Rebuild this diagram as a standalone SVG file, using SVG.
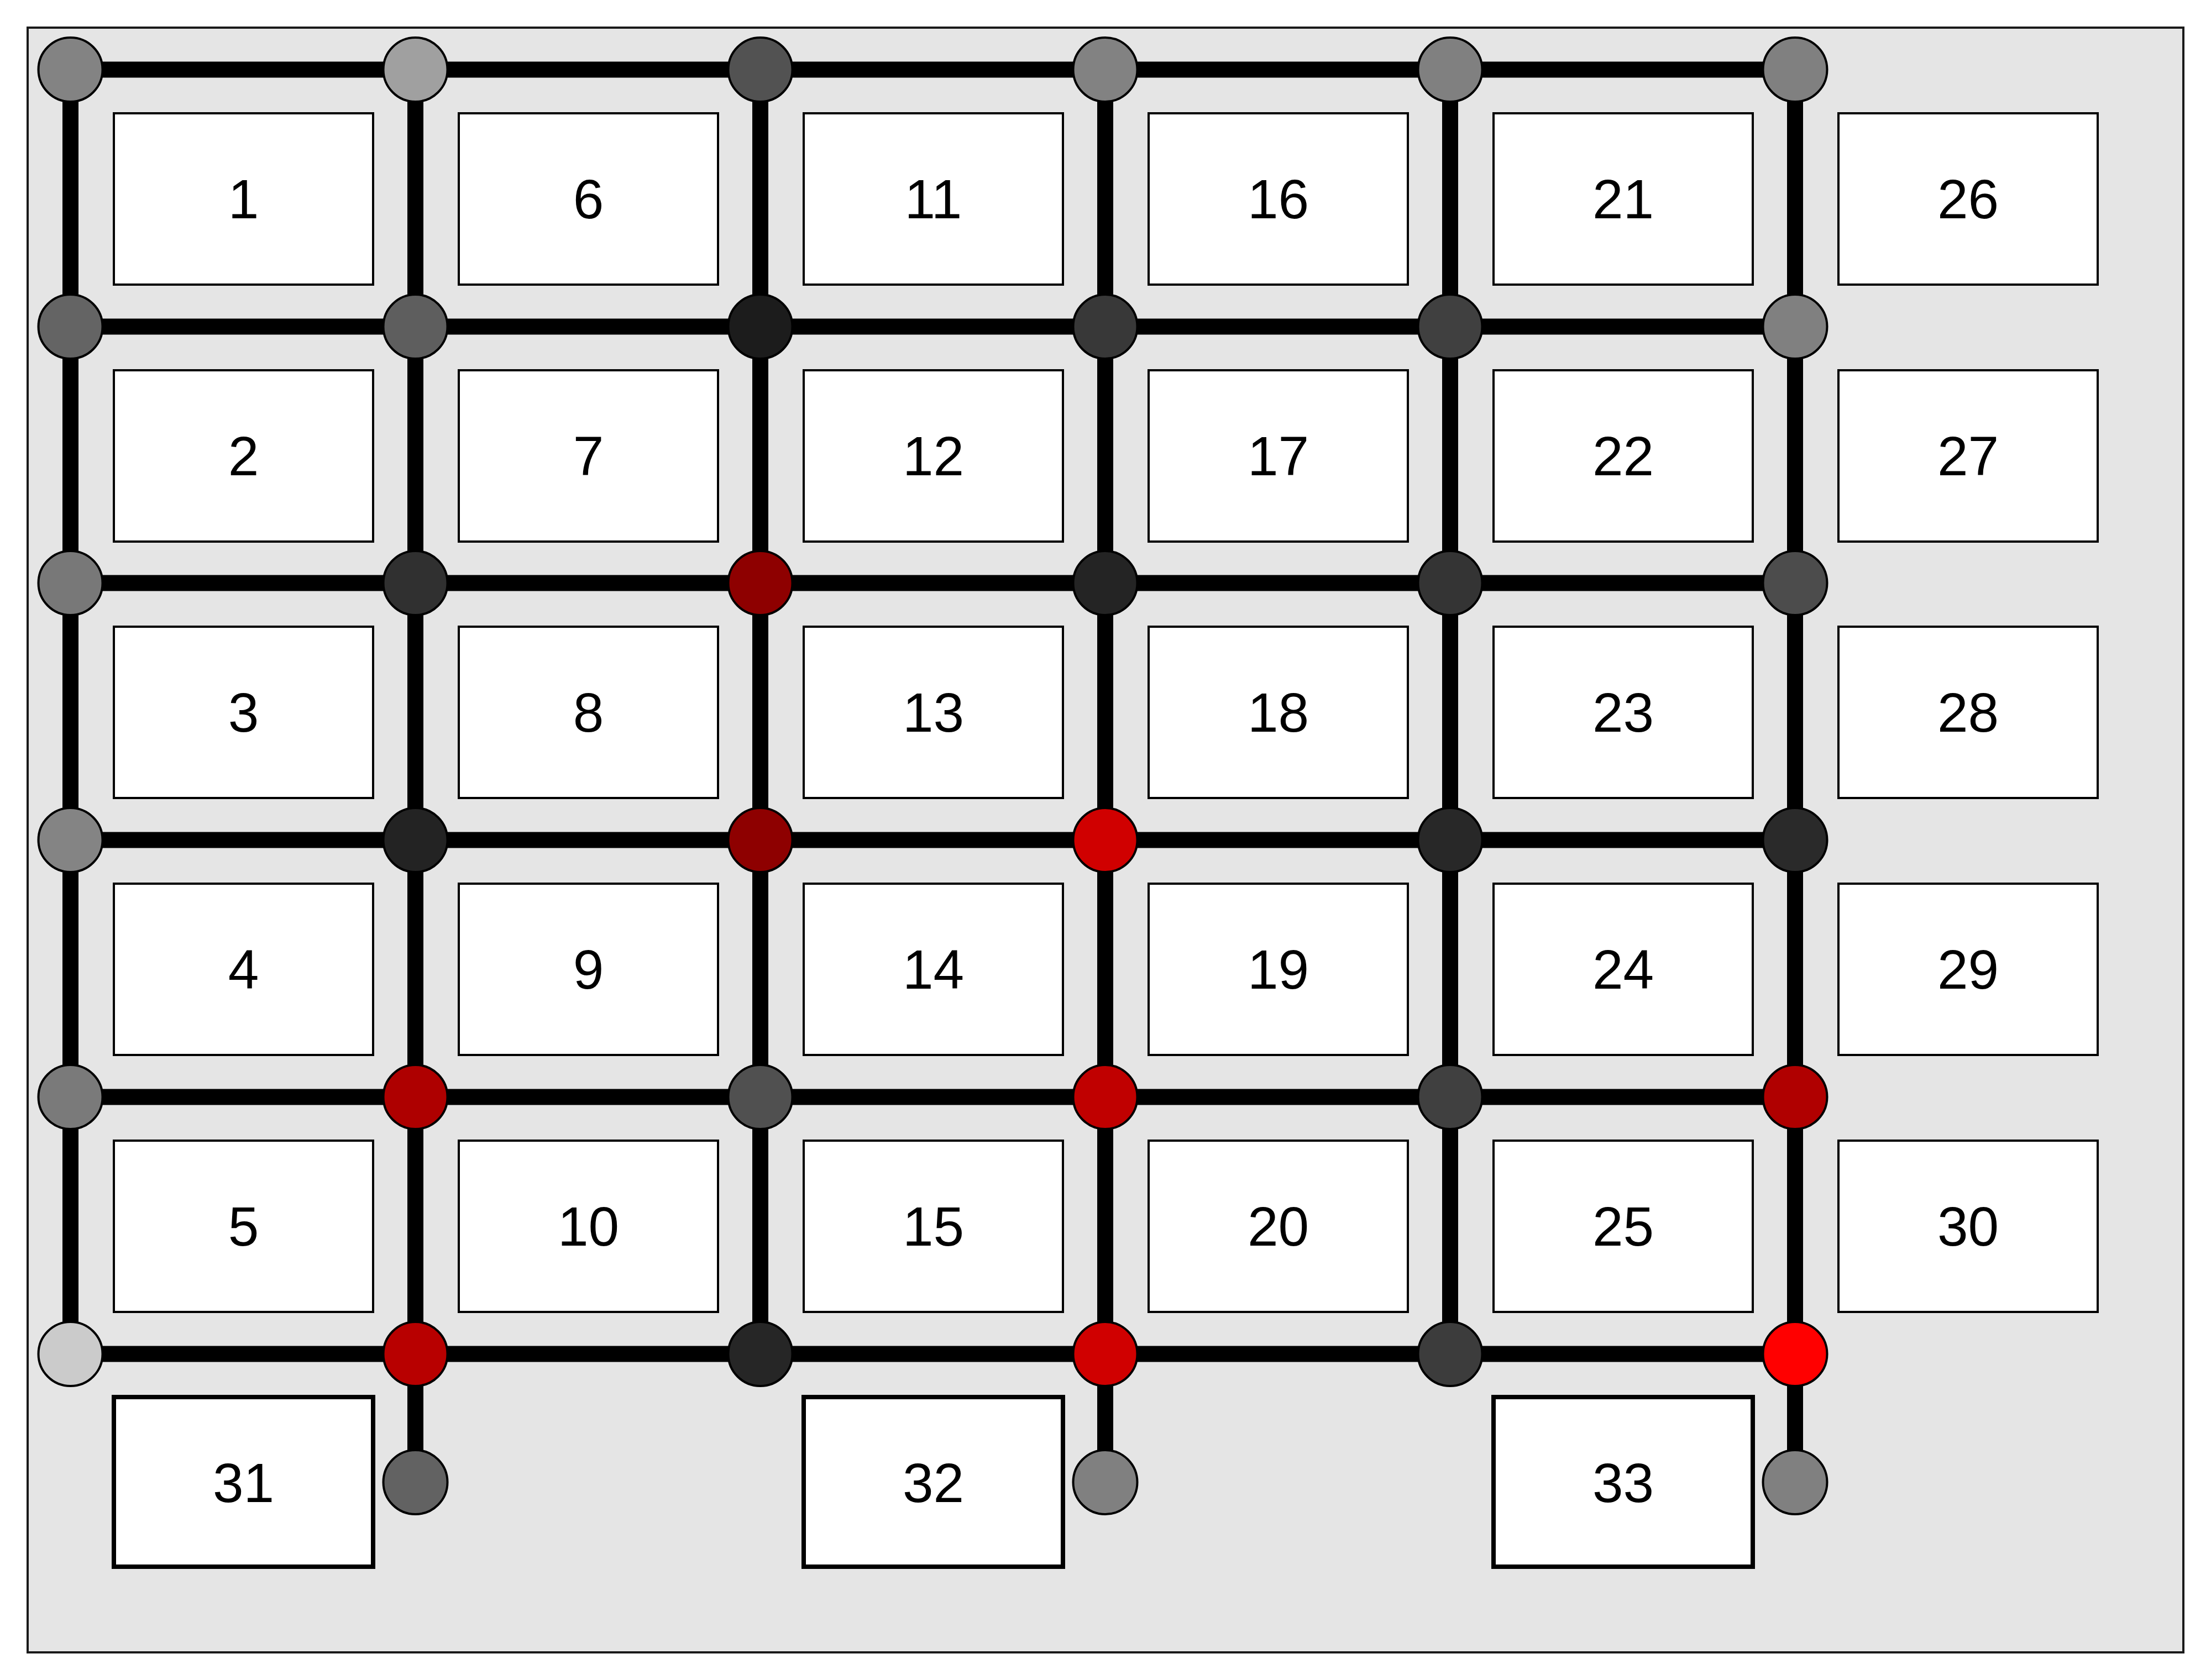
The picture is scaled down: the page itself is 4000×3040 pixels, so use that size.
<svg xmlns="http://www.w3.org/2000/svg" width="4000" height="3040" viewBox="0 0 4000 3040">
<style>
.bg{fill:#e5e5e5;stroke:#1a1a1a;stroke-width:4}
.box{fill:#ffffff;stroke:#000;stroke-width:4}
.boxb{fill:#ffffff;stroke:#000;stroke-width:8}
.lbl{font-family:"Liberation Sans",Arial,sans-serif;font-size:100px;fill:#000;text-anchor:middle}
.edge{stroke:#000;stroke-width:29;fill:none}
.nd{stroke:#000;stroke-width:4}
</style>
<rect x="0" y="0" width="4000" height="3040" fill="#ffffff"/>
<rect class="bg" x="50" y="50" width="3900" height="2940"/>
<g id="boxes">
<g id="b1"><rect class="box" x="206" y="205" width="469" height="310"/><text class="lbl" x="440.5" y="395">1</text></g>
<g id="b2"><rect class="box" x="206" y="670" width="469" height="310"/><text class="lbl" x="440.5" y="860">2</text></g>
<g id="b3"><rect class="box" x="206" y="1134" width="469" height="310"/><text class="lbl" x="440.5" y="1324">3</text></g>
<g id="b4"><rect class="box" x="206" y="1599" width="469" height="310"/><text class="lbl" x="440.5" y="1789">4</text></g>
<g id="b5"><rect class="box" x="206" y="2064" width="469" height="310"/><text class="lbl" x="440.5" y="2254">5</text></g>
<g id="b6"><rect class="box" x="830" y="205" width="469" height="310"/><text class="lbl" x="1064.5" y="395">6</text></g>
<g id="b7"><rect class="box" x="830" y="670" width="469" height="310"/><text class="lbl" x="1064.5" y="860">7</text></g>
<g id="b8"><rect class="box" x="830" y="1134" width="469" height="310"/><text class="lbl" x="1064.5" y="1324">8</text></g>
<g id="b9"><rect class="box" x="830" y="1599" width="469" height="310"/><text class="lbl" x="1064.5" y="1789">9</text></g>
<g id="b10"><rect class="box" x="830" y="2064" width="469" height="310"/><text class="lbl" x="1064.5" y="2254">10</text></g>
<g id="b11"><rect class="box" x="1454" y="205" width="469" height="310"/><text class="lbl" x="1688.5" y="395">11</text></g>
<g id="b12"><rect class="box" x="1454" y="670" width="469" height="310"/><text class="lbl" x="1688.5" y="860">12</text></g>
<g id="b13"><rect class="box" x="1454" y="1134" width="469" height="310"/><text class="lbl" x="1688.5" y="1324">13</text></g>
<g id="b14"><rect class="box" x="1454" y="1599" width="469" height="310"/><text class="lbl" x="1688.5" y="1789">14</text></g>
<g id="b15"><rect class="box" x="1454" y="2064" width="469" height="310"/><text class="lbl" x="1688.5" y="2254">15</text></g>
<g id="b16"><rect class="box" x="2078" y="205" width="469" height="310"/><text class="lbl" x="2312.5" y="395">16</text></g>
<g id="b17"><rect class="box" x="2078" y="670" width="469" height="310"/><text class="lbl" x="2312.5" y="860">17</text></g>
<g id="b18"><rect class="box" x="2078" y="1134" width="469" height="310"/><text class="lbl" x="2312.5" y="1324">18</text></g>
<g id="b19"><rect class="box" x="2078" y="1599" width="469" height="310"/><text class="lbl" x="2312.5" y="1789">19</text></g>
<g id="b20"><rect class="box" x="2078" y="2064" width="469" height="310"/><text class="lbl" x="2312.5" y="2254">20</text></g>
<g id="b21"><rect class="box" x="2702" y="205" width="469" height="310"/><text class="lbl" x="2936.5" y="395">21</text></g>
<g id="b22"><rect class="box" x="2702" y="670" width="469" height="310"/><text class="lbl" x="2936.5" y="860">22</text></g>
<g id="b23"><rect class="box" x="2702" y="1134" width="469" height="310"/><text class="lbl" x="2936.5" y="1324">23</text></g>
<g id="b24"><rect class="box" x="2702" y="1599" width="469" height="310"/><text class="lbl" x="2936.5" y="1789">24</text></g>
<g id="b25"><rect class="box" x="2702" y="2064" width="469" height="310"/><text class="lbl" x="2936.5" y="2254">25</text></g>
<g id="b26"><rect class="box" x="3326" y="205" width="469" height="310"/><text class="lbl" x="3560.5" y="395">26</text></g>
<g id="b27"><rect class="box" x="3326" y="670" width="469" height="310"/><text class="lbl" x="3560.5" y="860">27</text></g>
<g id="b28"><rect class="box" x="3326" y="1134" width="469" height="310"/><text class="lbl" x="3560.5" y="1324">28</text></g>
<g id="b29"><rect class="box" x="3326" y="1599" width="469" height="310"/><text class="lbl" x="3560.5" y="1789">29</text></g>
<g id="b30"><rect class="box" x="3326" y="2064" width="469" height="310"/><text class="lbl" x="3560.5" y="2254">30</text></g>
<g id="b31"><rect class="boxb" x="206" y="2528" width="469" height="307"/><text class="lbl" x="440.5" y="2718">31</text></g>
<g id="b32"><rect class="boxb" x="1454" y="2528" width="469" height="307"/><text class="lbl" x="1688.5" y="2718">32</text></g>
<g id="b33"><rect class="boxb" x="2702" y="2528" width="469" height="307"/><text class="lbl" x="2936.5" y="2718">33</text></g>
</g>
<g id="connectors">
<line class="edge" x1="127.5" y1="126" x2="3247.5" y2="126"/>
<line class="edge" x1="127.5" y1="591" x2="3247.5" y2="591"/>
<line class="edge" x1="127.5" y1="1055" x2="3247.5" y2="1055"/>
<line class="edge" x1="127.5" y1="1520" x2="3247.5" y2="1520"/>
<line class="edge" x1="127.5" y1="1985" x2="3247.5" y2="1985"/>
<line class="edge" x1="127.5" y1="2450" x2="3247.5" y2="2450"/>
<line class="edge" x1="127.5" y1="126" x2="127.5" y2="2450"/>
<line class="edge" x1="751.5" y1="126" x2="751.5" y2="2682"/>
<line class="edge" x1="1375.5" y1="126" x2="1375.5" y2="2450"/>
<line class="edge" x1="1999.5" y1="126" x2="1999.5" y2="2682"/>
<line class="edge" x1="2623.5" y1="126" x2="2623.5" y2="2450"/>
<line class="edge" x1="3247.5" y1="126" x2="3247.5" y2="2682"/>
</g>
<g id="nodes">
<circle id="n0_0" class="nd" cx="127.5" cy="126" r="58" fill="#838383"/>
<circle id="n1_0" class="nd" cx="751.5" cy="126" r="58" fill="#a0a0a0"/>
<circle id="n2_0" class="nd" cx="1375.5" cy="126" r="58" fill="#525252"/>
<circle id="n3_0" class="nd" cx="1999.5" cy="126" r="58" fill="#828282"/>
<circle id="n4_0" class="nd" cx="2623.5" cy="126" r="58" fill="#808080"/>
<circle id="n5_0" class="nd" cx="3247.5" cy="126" r="58" fill="#808080"/>
<circle id="n0_1" class="nd" cx="127.5" cy="591" r="58" fill="#646464"/>
<circle id="n1_1" class="nd" cx="751.5" cy="591" r="58" fill="#5e5e5e"/>
<circle id="n2_1" class="nd" cx="1375.5" cy="591" r="58" fill="#1c1c1c"/>
<circle id="n3_1" class="nd" cx="1999.5" cy="591" r="58" fill="#383838"/>
<circle id="n4_1" class="nd" cx="2623.5" cy="591" r="58" fill="#404040"/>
<circle id="n5_1" class="nd" cx="3247.5" cy="591" r="58" fill="#808080"/>
<circle id="n0_2" class="nd" cx="127.5" cy="1055" r="58" fill="#787878"/>
<circle id="n1_2" class="nd" cx="751.5" cy="1055" r="58" fill="#303030"/>
<circle id="n2_2" class="nd" cx="1375.5" cy="1055" r="58" fill="#8e0000"/>
<circle id="n3_2" class="nd" cx="1999.5" cy="1055" r="58" fill="#242424"/>
<circle id="n4_2" class="nd" cx="2623.5" cy="1055" r="58" fill="#343434"/>
<circle id="n5_2" class="nd" cx="3247.5" cy="1055" r="58" fill="#4c4c4c"/>
<circle id="n0_3" class="nd" cx="127.5" cy="1520" r="58" fill="#848484"/>
<circle id="n1_3" class="nd" cx="751.5" cy="1520" r="58" fill="#232323"/>
<circle id="n2_3" class="nd" cx="1375.5" cy="1520" r="58" fill="#8e0000"/>
<circle id="n3_3" class="nd" cx="1999.5" cy="1520" r="58" fill="#d00000"/>
<circle id="n4_3" class="nd" cx="2623.5" cy="1520" r="58" fill="#282828"/>
<circle id="n5_3" class="nd" cx="3247.5" cy="1520" r="58" fill="#2a2a2a"/>
<circle id="n0_4" class="nd" cx="127.5" cy="1985" r="58" fill="#7a7a7a"/>
<circle id="n1_4" class="nd" cx="751.5" cy="1985" r="58" fill="#ae0000"/>
<circle id="n2_4" class="nd" cx="1375.5" cy="1985" r="58" fill="#505050"/>
<circle id="n3_4" class="nd" cx="1999.5" cy="1985" r="58" fill="#c00000"/>
<circle id="n4_4" class="nd" cx="2623.5" cy="1985" r="58" fill="#404040"/>
<circle id="n5_4" class="nd" cx="3247.5" cy="1985" r="58" fill="#b00000"/>
<circle id="n0_5" class="nd" cx="127.5" cy="2450" r="58" fill="#cbcbcb"/>
<circle id="n1_5" class="nd" cx="751.5" cy="2450" r="58" fill="#b80000"/>
<circle id="n2_5" class="nd" cx="1375.5" cy="2450" r="58" fill="#262626"/>
<circle id="n3_5" class="nd" cx="1999.5" cy="2450" r="58" fill="#d00000"/>
<circle id="n4_5" class="nd" cx="2623.5" cy="2450" r="58" fill="#3c3c3c"/>
<circle id="n5_5" class="nd" cx="3247.5" cy="2450" r="58" fill="#ff0000"/>
<circle id="n1_6" class="nd" cx="751.5" cy="2682" r="58" fill="#626262"/>
<circle id="n3_6" class="nd" cx="1999.5" cy="2682" r="58" fill="#808080"/>
<circle id="n5_6" class="nd" cx="3247.5" cy="2682" r="58" fill="#808080"/>
</g>
</svg>
